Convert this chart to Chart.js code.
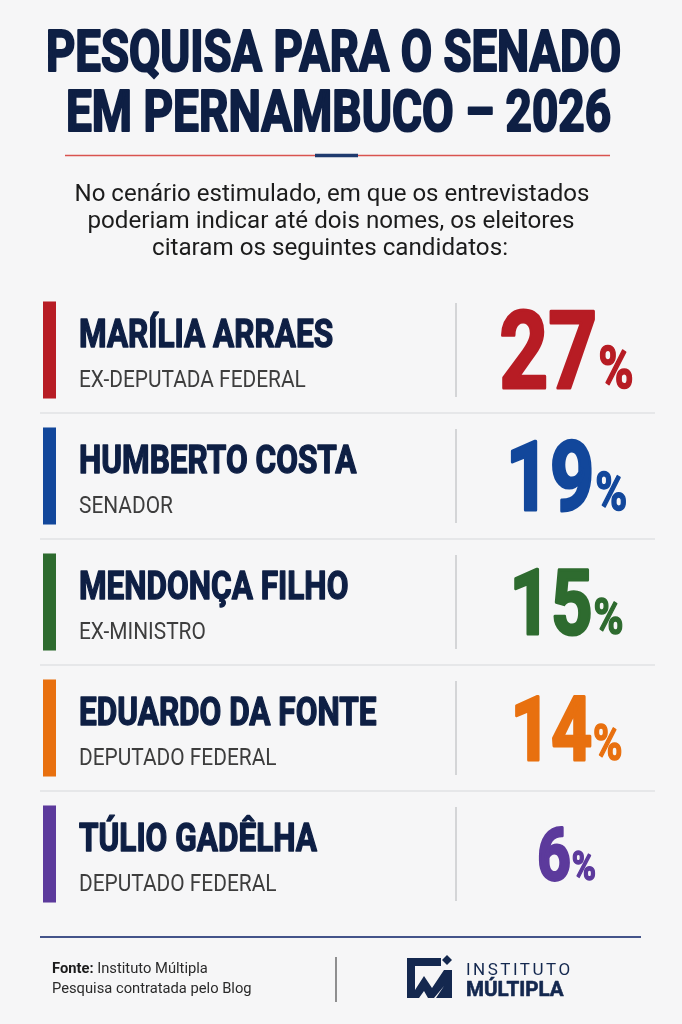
<!DOCTYPE html>
<html lang="pt-BR">
<head>
<meta charset="utf-8">
<title>Pesquisa para o Senado em Pernambuco – 2026</title>
<script src="https://cdn.jsdelivr.net/npm/chart.js@4"></script>
<style>
  html, body { margin: 0; padding: 0; background: #f6f6f7; }
  #board { display: block; }
</style>
</head>
<body>
<canvas id="board" width="682" height="1024"></canvas>
<script>
// dados da pesquisa (cenário estimulado)
const candidatos = ['MARÍLIA ARRAES', 'HUMBERTO COSTA', 'MENDONÇA FILHO', 'EDUARDO DA FONTE', 'TÚLIO GADÊLHA'];
const cargos = ['EX-DEPUTADA FEDERAL', 'SENADOR', 'EX-MINISTRO', 'DEPUTADO FEDERAL', 'DEPUTADO FEDERAL'];
const percentuais = [27, 19, 15, 14, 6];
const cores = ['#b71c24', '#12479b', '#2e6b2f', '#e8700f', '#5c3a9c'];

const titulo = ['PESQUISA PARA O SENADO', 'EM PERNAMBUCO – 2026'];
const subtitulo = [
    'No cenário estimulado, em que os entrevistados',
    'poderiam indicar até dois nomes, os eleitores',
    'citaram os seguintes candidatos:'
];

const NAVY = '#0e1f44';
const FONT = 'Roboto, "Liberation Sans", sans-serif';

// escreve texto com escala horizontal (fonte condensada); engrossa com contorno opcional
function texto(ctx, s, x, y, font, color, sx, align, grosso) {
    ctx.save();
    ctx.font = font;
    ctx.fillStyle = color;
    ctx.textAlign = 'left';
    ctx.textBaseline = 'alphabetic';
    const w = ctx.measureText(s).width * sx;
    let x0 = x;
    if (align === 'center') x0 = x - w / 2;
    if (align === 'right') x0 = x - w;
    ctx.translate(x0, y);
    ctx.scale(sx, 1);
    ctx.fillText(s, 0, 0);
    if (grosso) {
        ctx.strokeStyle = color;
        ctx.lineWidth = grosso;
        ctx.lineJoin = 'round';
        ctx.strokeText(s, 0, 0);
    }
    ctx.restore();
    return w;
}

// texto centrado que ocupa uma largura dada
function textoLargura(ctx, s, cx, y, font, color, largura, grosso) {
    ctx.save();
    ctx.font = font;
    const sx = largura / ctx.measureText(s).width;
    ctx.restore();
    texto(ctx, s, cx, y, font, color, sx, 'center', grosso);
}

function linha(ctx, x1, y1, x2, y2, color, w) {
    ctx.save();
    ctx.strokeStyle = color;
    ctx.lineWidth = w;
    ctx.beginPath();
    ctx.moveTo(x1, y1);
    ctx.lineTo(x2, y2);
    ctx.stroke();
    ctx.restore();
}

const moldura = {
    id: 'moldura',
    beforeDraw(chart) {
        const ctx = chart.ctx;
        ctx.save();
        ctx.fillStyle = '#f6f6f7';
        ctx.fillRect(0, 0, chart.width, chart.height);
        ctx.restore();

        // título
        textoLargura(ctx, titulo[0], 333.5, 71, 'bold 58px ' + FONT, NAVY, 575, 2.2);
        textoLargura(ctx, titulo[1], 338.5, 131, 'bold 58px ' + FONT, NAVY, 545, 2.2);

        // filete vermelho com destaque azul
        linha(ctx, 65, 155.5, 610, 155.5, '#d9534f', 1.6);
        linha(ctx, 315, 155.5, 358, 155.5, '#1f3a6e', 3.5);

        // subtítulo
        const larguras = [515, 487, 356];
        const centros = [332, 331, 330];
        subtitulo.forEach((s, i) => {
            textoLargura(ctx, s, centros[i], 201 + i * 27, '24px ' + FONT, '#1c1c1c', larguras[i]);
        });

        // rodapé
        linha(ctx, 40, 937, 641, 937, '#44548a', 2);
        const wf = texto(ctx, 'Fonte:', 52, 973, 'bold 15.5px ' + FONT, '#1c1c1c', 0.95, 'left');
        texto(ctx, ' Instituto Múltipla', 52 + wf, 973, '15.5px ' + FONT, '#2a2a2a', 0.95, 'left');
        texto(ctx, 'Pesquisa contratada pelo Blog', 52, 993, '15.5px ' + FONT, '#2a2a2a', 0.95, 'left');
        linha(ctx, 336, 957, 336, 1002, '#4a4a4a', 1.2);

        // logotipo
        ctx.save();
        ctx.fillStyle = '#14284f';
        ctx.beginPath();
        ctx.moveTo(407, 958);
        ctx.lineTo(441, 958);
        ctx.lineTo(441, 966);
        ctx.lineTo(415, 966);
        ctx.lineTo(415, 990);
        ctx.lineTo(424, 976);
        ctx.lineTo(432, 988);
        ctx.lineTo(444, 970);
        ctx.lineTo(452, 970);
        ctx.lineTo(452, 998);
        ctx.lineTo(436, 998);
        ctx.lineTo(444, 986);
        ctx.lineTo(434, 998);
        ctx.lineTo(428, 998);
        ctx.lineTo(424, 991);
        ctx.lineTo(419, 998);
        ctx.lineTo(407, 998);
        ctx.closePath();
        ctx.fill();
        ctx.beginPath();
        ctx.moveTo(447, 955);
        ctx.lineTo(452, 960);
        ctx.lineTo(447, 965);
        ctx.lineTo(442, 960);
        ctx.closePath();
        ctx.fill();
        ctx.font = '17px ' + FONT;
        ctx.letterSpacing = '2.5px';
        ctx.fillText('INSTITUTO', 466, 975);
        ctx.letterSpacing = '0px';
        ctx.restore();
        texto(ctx, 'MÚLTIPLA', 466, 996, 'bold 21px ' + FONT, '#14284f', 0.98, 'left', 0.6);
    },
    afterDatasetsDraw(chart) {
        const ctx = chart.ctx;
        const els = chart.getDatasetMeta(0).data;
        const area = chart.chartArea;

        // separadores entre as linhas
        for (let i = 0; i < els.length - 1; i++) {
            const y = (els[i].y + els[i + 1].y) / 2;
            linha(ctx, area.left, y, area.right, y, '#e1e2e5', 1.5);
        }

        els.forEach((el, i) => {
            const cy = el.y;
            const h = el.height;

            // faixa colorida
            ctx.save();
            ctx.fillStyle = cores[i];
            ctx.fillRect(43, cy - h / 2, 13, h);
            ctx.restore();

            // nome e cargo
            texto(ctx, candidatos[i], 79, cy - 3, 'bold 38px ' + FONT, NAVY, 0.83, 'left', 1.4);
            texto(ctx, cargos[i], 79, cy + 37, '24px ' + FONT, '#3d3d3d', 0.87, 'left');

            // divisor vertical
            linha(ctx, 456, cy - 47, 456, cy + 47, '#c9cacc', 1.5);

            // percentual
            const tam = 42.7 + 12.36 * Math.sqrt(percentuais[i]);
            const num = String(percentuais[i]);
            ctx.save();
            ctx.font = 'bold ' + tam + 'px ' + FONT;
            const w1 = ctx.measureText(num).width * 0.8;
            ctx.font = 'bold ' + (tam * 0.56) + 'px ' + FONT;
            const w2 = ctx.measureText('%').width * 0.8;
            ctx.restore();
            const x0 = 566 - (w1 + w2) / 2;
            const base = cy + tam * 0.711 / 2;
            texto(ctx, num, x0, base, 'bold ' + tam + 'px ' + FONT, cores[i], 0.8, 'left', 3);
            texto(ctx, '%', x0 + w1 + 1, base, 'bold ' + (tam * 0.56) + 'px ' + FONT, cores[i], 0.8, 'left', 1.5);
        });
    }
};

new Chart(document.getElementById('board'), {
    type: 'bar',
    data: {
        labels: candidatos,
        datasets: [{
            label: 'Intenção de voto (%)',
            data: percentuais,
            backgroundColor: 'rgba(0,0,0,0)',
            borderWidth: 0,
            barPercentage: 0.77,
            categoryPercentage: 1
        }]
    },
    options: {
        indexAxis: 'y',
        responsive: false,
        animation: false,
        layout: {
            padding: { top: 287, bottom: 107, left: 40, right: 27 }
        },
        scales: {
            x: { display: false, min: 0, max: 30 },
            y: { display: false }
        },
        plugins: {
            legend: { display: false },
            tooltip: { enabled: false }
        }
    },
    plugins: [moldura]
});
</script>
</body>
</html>
